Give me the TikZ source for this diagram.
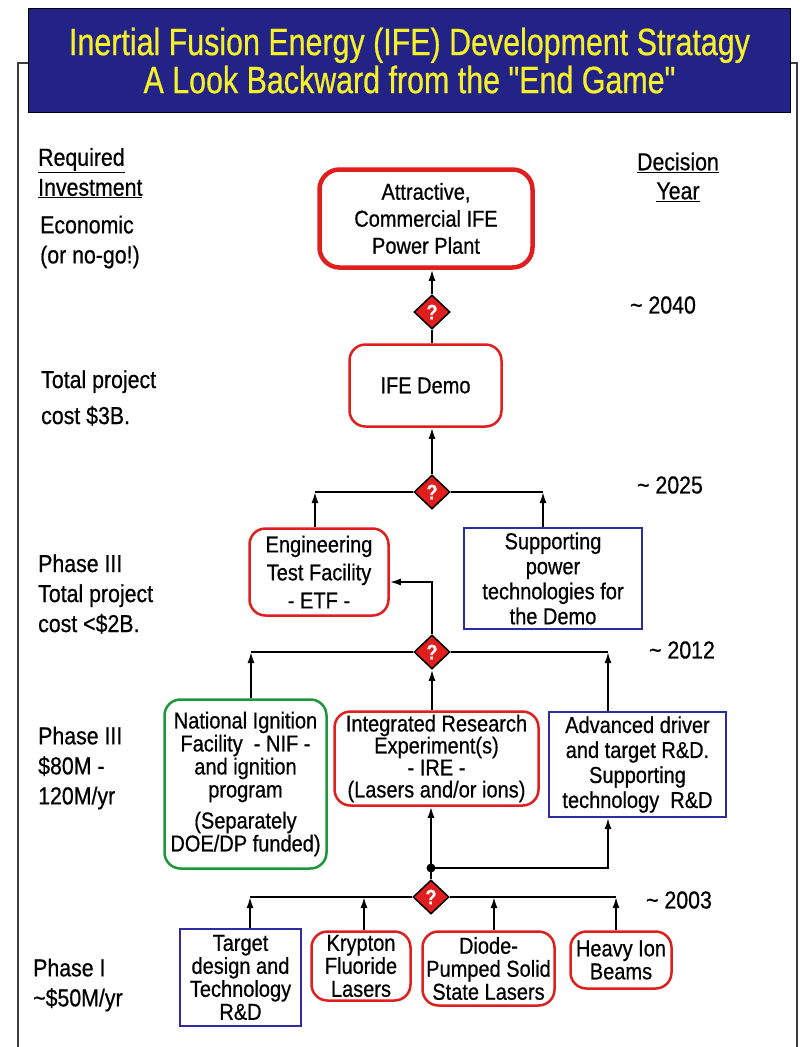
\documentclass[tikz,border=0pt]{standalone}
\usepackage{fontspec}
\setmainfont{Liberation Sans}[FakeStretch=0.87, FakeBold=0.6]
\newfontfamily\titlefont{Liberation Sans}[FakeStretch=0.8, FakeBold=0.6]
\usetikzlibrary{shapes.geometric,arrows.meta}
\definecolor{ferred}{RGB}{225,30,30}
\definecolor{ferblue}{RGB}{45,45,160}
\definecolor{fergreen}{RGB}{30,150,60}
\definecolor{fertitle}{RGB}{35,35,135}
\definecolor{feryellow}{RGB}{245,240,40}
\definecolor{framegray}{RGB}{60,60,60}
\newcommand{\fsz}[2]{\fontsize{#1}{#2}\selectfont}

\begin{document}
\begin{tikzpicture}[x=1pt,y=-1pt]
\tikzstyle{titlebox}=[rectangle, fill=fertitle, draw=black, line width=1pt, minimum width=762pt, minimum height=104pt, text=feryellow, align=center, font=\titlefont\fsz{38}{38}]
\tikzstyle{redbox}=[rectangle, rounded corners=16pt, draw=ferred, line width=2.5pt, inner sep=2pt, align=center, font=\fsz{23}{25}]
\tikzstyle{bluebox}=[rectangle, draw=ferblue, line width=2pt, inner sep=2pt, align=center, font=\fsz{23}{25}]
\tikzstyle{greenbox}=[redbox, draw=fergreen]
\tikzstyle{gate}=[diamond, fill=ferred, draw=black, line width=1.5pt, minimum width=36pt, minimum height=34pt, inner sep=0pt, text=white, font=\bfseries\fsz{21}{21}]
\tikzstyle{costtext}=[anchor=west, align=left, inner sep=0pt, font=\fsz{24.5}{30}]
\tikzstyle{yeartext}=[align=center, inner sep=0pt, font=\fsz{24.5}{29}]
\tikzstyle{connect}=[-{Latex[length=11pt,width=7pt]}, line width=1.8pt]
\tikzstyle{wire}=[line width=1.8pt]
  \useasboundingbox[fill=white] (0,0) rectangle (802,1047);
  \draw[framegray, line width=2pt] (18,1047) -- (18,63) -- (797,63) -- (797,1047);
  \node[titlebox] (title) at (409.5,60.5) {Inertial Fusion Energy (IFE) Development Stratagy\\A Look Backward from the "End Game"};

  % left and right columns
  \node[costtext] (invest) at (38,173) {\underline{Required}\\\underline{Investment}};
  \node[costtext] (econ) at (40,242) {Economic\\(or no-go!)};
  \node[costtext, font=\fsz{24.5}{36}] (cost3) at (41,398) {Total project\\cost \$3B.};
  \node[costtext] (ph3a) at (38,594) {Phase III\\Total project\\cost <\$2B.};
  \node[costtext] (ph3b) at (38,768) {Phase III\\\$80M -\\120M/yr};
  \node[costtext] (ph1) at (33,985) {Phase I\\\textasciitilde\$50M/yr};
  \node[yeartext] (decision) at (678,177) {\underline{Decision}\\\underline{Year}};
  \node[yeartext] (y2040) at (663,305) {\textasciitilde\ 2040};
  \node[yeartext] (y2025) at (670,485) {\textasciitilde\ 2025};
  \node[yeartext] (y2012) at (682,650) {\textasciitilde\ 2012};
  \node[yeartext] (y2003) at (679,900) {\textasciitilde\ 2003};

  % boxes
  \node[redbox, line width=4.5pt, rounded corners=20pt, minimum width=213pt, minimum height=98pt, font=\fsz{23}{27}] (plant) at (426,218.5) {Attractive,\\Commercial IFE\\Power Plant};
  \node[redbox, minimum width=152pt, minimum height=82pt] (demo) at (425.5,385.5) {IFE Demo};
  \node[redbox, minimum width=139pt, minimum height=87pt, font=\fsz{23}{28}] (etf) at (319,572) {Engineering\\Test Facility\\- ETF -};
  \node[bluebox, minimum width=178pt, minimum height=101pt] (supp) at (553,578.5) {Supporting\\power\\technologies for\\the Demo};
  \node[greenbox, minimum width=162pt, minimum height=169pt, font=\fsz{23}{23}] (nif) at (245.5,784) {National Ignition\\Facility\ \ - NIF -\\and ignition\\program\\[8pt](Separately\\DOE/DP funded)};
  \node[redbox, minimum width=204pt, minimum height=94pt, font=\fsz{23}{22}] (ire) at (436.5,758.5) {Integrated Research\\Experiment(s)\\- IRE -\\(Lasers and/or ions)};
  \node[bluebox, minimum width=177pt, minimum height=105pt] (adv) at (637.5,764.5) {Advanced driver\\and target R\&D.\\Supporting\\technology\ \ R\&D};
  \node[bluebox, minimum width=121pt, minimum height=97pt, font=\fsz{23}{23}] (target) at (240.5,977.5) {Target\\design and\\Technology\\R\&D};
  \node[redbox, minimum width=99pt, minimum height=69pt, font=\fsz{23}{23}] (kr) at (361,966) {Krypton\\Fluoride\\Lasers};
  \node[redbox, minimum width=132pt, minimum height=74pt, font=\fsz{23}{23}] (dpss) at (488.5,968.5) {Diode-\\Pumped Solid\\State Lasers};
  \node[redbox, minimum width=101pt, minimum height=57pt, font=\fsz{23}{23}] (hib) at (621,960) {Heavy Ion\\Beams};

  % decision points
  \node[gate] (g1) at (432,312) {?};
  \node[gate] (g2) at (432,492) {?};
  \node[gate] (g3) at (432,652) {?};
  \node[gate] (g4) at (431,897) {?};
  \coordinate (b2l) at (315,492);
  \coordinate (b2r) at (543,492);
  \coordinate (b3l) at (251,652);
  \coordinate (b3r) at (608,652);
  \coordinate (b4l) at (250,897);
  \coordinate (b4a) at (364,897);
  \coordinate (b4b) at (494,897);
  \coordinate (b4r) at (616,897);
  \coordinate (jn) at (431,868);
  \coordinate (jr) at (608,868);

  \draw[connect] (g1.north) -- (g1.north |- plant.south);
  \draw[wire] (g1.south) -- (g1.south |- demo.north);
  \draw[connect] (g2.north) -- (g2.north |- demo.south);
  \draw[wire] (b2l) -- (g2.west) (g2.east) -- (b2r);
  \draw[connect] (b2l |- etf.north) -- (b2l);
  \draw[connect] (b2r |- supp.north) -- (b2r);
  \draw[connect] (g3.north) |- ([yshift=-10pt]etf.east);
  \draw[wire] (b3l) -- (g3.west) (g3.east) -- (b3r);
  \draw[connect] (b3l |- nif.north) -- (b3l);
  \draw[connect] (b3r |- adv.north) -- (b3r);
  \draw[connect] (g3.south |- ire.north) -- (g3.south);
  \draw[wire] (g4.north) -- (jn);
  \draw[connect] (jn) -- (jn |- ire.south);
  \draw[connect] (jn) -- (jr) -- (jr |- adv.south);
  \fill (jn) circle (4.5);
  \draw[wire] (b4l) -- (g4.west) (g4.east) -- (b4r);
  \draw[connect] (b4l |- target.north) -- (b4l);
  \draw[connect] (b4a |- kr.north) -- (b4a);
  \draw[connect] (b4b |- dpss.north) -- (b4b);
  \draw[connect] (b4r |- hib.north) -- (b4r);
\end{tikzpicture}
\end{document}
